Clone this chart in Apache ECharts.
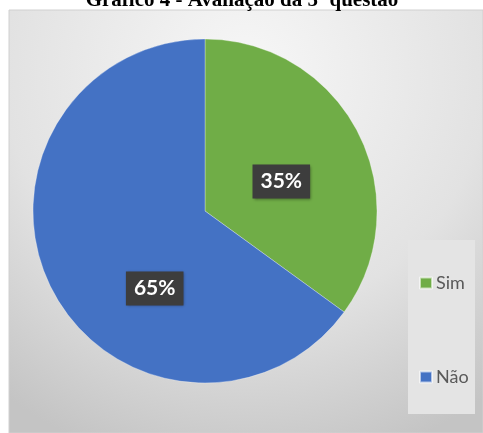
<!DOCTYPE html>
<html>
<head>
<meta charset="utf-8">
<script src="https://cdn.jsdelivr.net/npm/echarts@6/dist/echarts.min.js"></script>
<style>
html,body{margin:0;padding:0;background:#fff;}
#c{width:483px;height:433px;}
</style>
</head>
<body>
<div id="c"></div>
<script>
var titleText = 'Gráfico 4 - Avaliação da 5ª questão';
var categories = ['Sim', 'Não'];
var values = [35, 65];
var colors = ['#70AD47', '#4472C4'];
var labelOffsets = [[-3, 11], [29, 37]];

var chart = echarts.init(document.getElementById('c'), null, {renderer: 'canvas'});
var data = categories.map(function (c, i) {
  return {
    name: c,
    value: values[i],
    itemStyle: {color: colors[i]},
    label: {offset: labelOffsets[i]}
  };
});
chart.setOption({
  animation: false,
  backgroundColor: '#ffffff',
  graphic: [
    {
      type: 'rect', z: -10,
      shape: {x: 9, y: 10, width: 474, height: 423},
      style: {
        fill: {
          type: 'radial', x: 0.5, y: 0.15, r: 0.95,
          colorStops: [
            {offset: 0, color: '#f7f7f7'},
            {offset: 0.6, color: '#e2e2e2'},
            {offset: 1, color: '#c4c4c4'}
          ]
        },
        stroke: '#d0d0d0', lineWidth: 1
      }
    },
    {
      type: 'rect', z: -5,
      shape: {x: 408, y: 240, width: 67, height: 174},
      style: {fill: '#e4e4e4'}
    },
    {
      type: 'text', z: 10,
      x: 242, y: 11,
      style: {
        text: titleText,
        fill: '#000',
        font: 'bold 21px "Liberation Serif", "DejaVu Serif", serif',
        textAlign: 'center',
        textVerticalAlign: 'bottom'
      }
    }
  ],
  legend: {
    orient: 'vertical',
    left: 414,
    top: 269,
    itemGap: 76,
    itemWidth: 12,
    itemHeight: 11,
    icon: 'rect',
    data: categories,
    textStyle: {fontFamily: 'Lato', fontSize: 18, color: '#595959', padding: [0, 0, 0, -1]}
  },
  series: [{
    type: 'pie',
    center: [205, 211],
    radius: [0, 172],
    startAngle: 90,
    clockwise: true,
    silent: true,
    itemStyle: {borderColor: 'rgba(255,255,255,0.6)', borderWidth: 0.5},
    label: {
      show: true,
      position: 'inside',
      formatter: '{d}%',
      color: '#ffffff',
      fontFamily: 'Lato',
      fontWeight: 'bold',
      fontSize: 21,
      backgroundColor: '#3d3d3d',
      padding: [7, 8, 6, 8],
      shadowColor: 'rgba(0,0,0,0.4)',
      shadowBlur: 3,
      shadowOffsetX: 1,
      shadowOffsetY: 1
    },
    labelLine: {show: false},
    data: data
  }]
});
</script>
</body>
</html>
